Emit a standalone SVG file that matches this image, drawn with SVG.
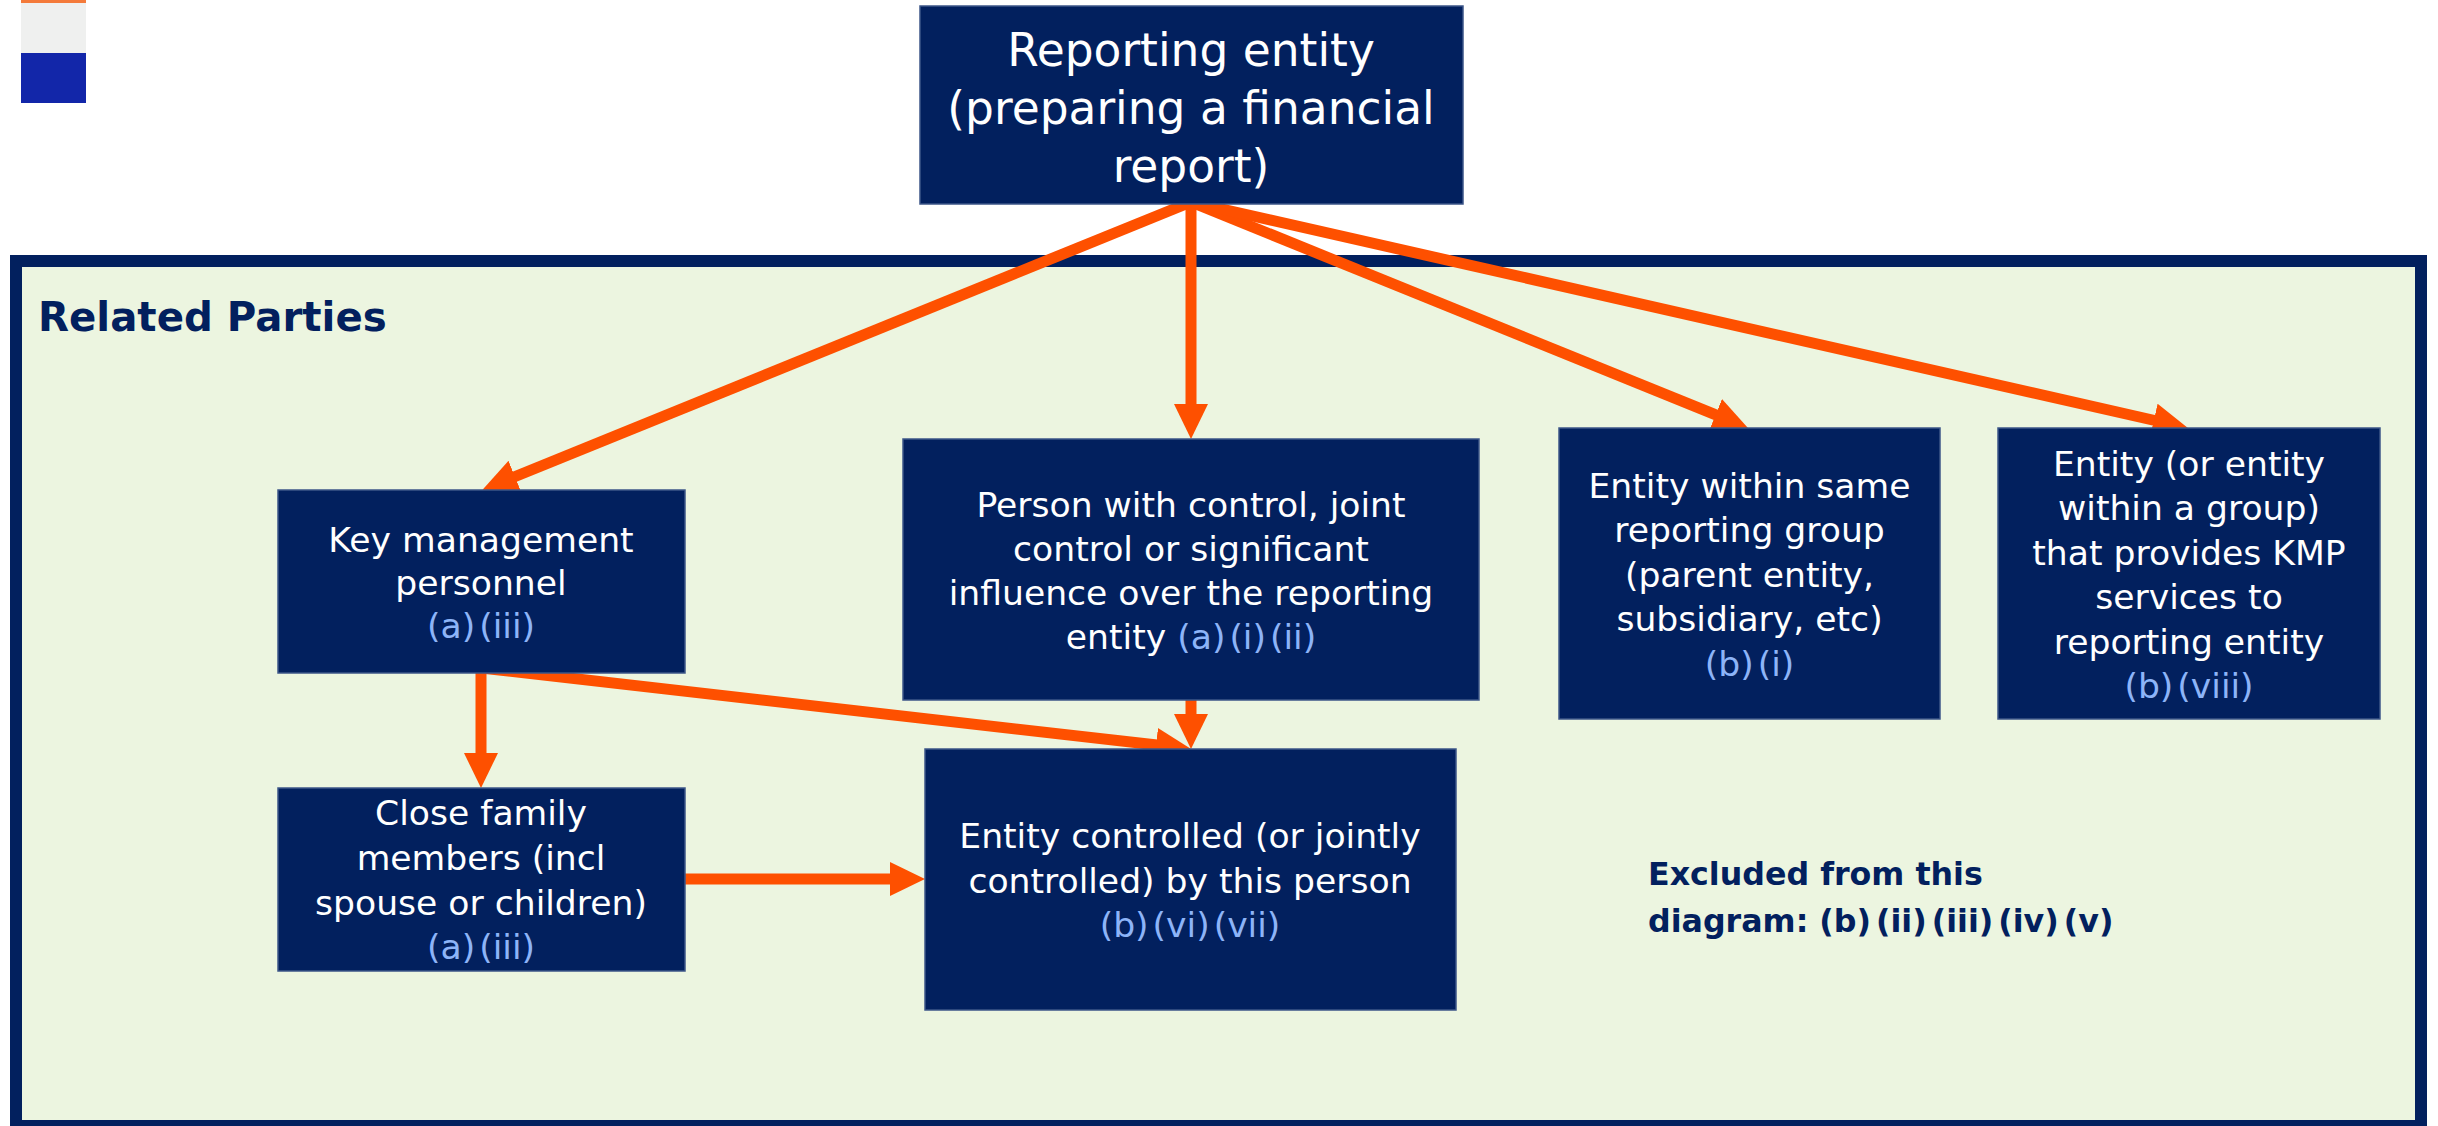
<svg xmlns="http://www.w3.org/2000/svg" width="2438" height="1126" viewBox="0 0 2438 1126">
<style>
.box{fill:#02205E;stroke:#3C5688;stroke-width:1.5}
.t{font-family:"DejaVu Sans","Open Sans",sans-serif;fill:#FFFFFF;text-anchor:middle}
.t36{font-size:34.6px}
.ref{fill:#8DB4F8}
.hd{font-family:"DejaVu Sans","Open Sans",sans-serif;font-weight:bold;fill:#02205E}
.arr{stroke:#FE5000;stroke-width:11;fill:none;marker-end:url(#ah)}
</style>
<defs>
<marker id="ah" markerUnits="userSpaceOnUse" markerWidth="40" markerHeight="40" refX="1" refY="17" orient="auto">
<path d="M0,0 L35,17 L0,34 Z" fill="#FE5000"/>
</marker>
</defs>
<rect width="2438" height="1126" fill="#FFFFFF"/>
<g id="flag">
<rect x="21" y="0" width="65" height="3" fill="#F47A3A"/>
<rect x="21" y="3" width="65" height="50" fill="#EFF0EF"/>
<rect x="21" y="53" width="65" height="50" fill="#1226A9"/>
</g>
<g id="related-parties">
<rect x="16" y="261" width="2405" height="865" fill="#ECF5E0" stroke="#02205E" stroke-width="12"/>
<text class="hd" x="38" y="331" font-size="40.3">Related Parties</text>
</g>
<g id="excluded">
<text class="hd" x="1648" y="885" font-size="31.7">Excluded from this</text>
<text class="hd" x="1648" y="932" font-size="31.7">diagram: (b)<tspan dx="5">(ii)</tspan><tspan dx="5">(iii)</tspan><tspan dx="5">(iv)</tspan><tspan dx="5">(v)</tspan></text>
</g>
<g id="connectors">
<line class="arr" x1="1191" y1="202" x2="514" y2="477"/>
<line class="arr" x1="1191" y1="202" x2="1191" y2="405"/>
<line class="arr" x1="1191" y1="202" x2="1716.5" y2="415.2"/>
<line class="arr" x1="1191" y1="202" x2="2154.8" y2="420.5"/>
<line class="arr" x1="481" y1="668" x2="481" y2="754"/>
<line class="arr" x1="481" y1="668" x2="1157" y2="745"/>
<line class="arr" x1="1191" y1="700" x2="1191" y2="715"/>
<line class="arr" x1="685" y1="879" x2="891" y2="879"/>
</g>
<g id="reporting-entity">
<rect class="box" x="920" y="6" width="543" height="198"/>
<text class="t" x="1191" y="66" font-size="45.5">Reporting entity</text>
<text class="t" x="1191" y="124" font-size="45.5">(preparing a financial</text>
<text class="t" x="1191" y="182" font-size="45.5">report)</text>
</g>
<g id="kmp">
<rect class="box" x="278" y="490" width="407" height="183"/>
<text class="t t36" x="481" y="552">Key management</text>
<text class="t t36" x="481" y="595">personnel</text>
<text class="t t36 ref" x="481" y="638">(a)<tspan dx="4">(iii)</tspan></text>
</g>
<g id="person">
<rect class="box" x="903" y="439" width="576" height="261"/>
<text class="t t36" x="1191" y="517">Person with control, joint</text>
<text class="t t36" x="1191" y="561">control or significant</text>
<text class="t t36" x="1191" y="605">influence over the reporting</text>
<text class="t t36" x="1191" y="649">entity <tspan class="ref">(a)</tspan><tspan class="ref" dx="4">(i)</tspan><tspan class="ref" dx="4">(ii)</tspan></text>
</g>
<g id="same-group">
<rect class="box" x="1559" y="428" width="381" height="291"/>
<text class="t t36" x="1749.5" y="498">Entity within same</text>
<text class="t t36" x="1749.5" y="542">reporting group</text>
<text class="t t36" x="1749.5" y="587">(parent entity,</text>
<text class="t t36" x="1749.5" y="631">subsidiary, etc)</text>
<text class="t t36 ref" x="1749.5" y="676">(b)<tspan dx="4">(i)</tspan></text>
</g>
<g id="kmp-services">
<rect class="box" x="1998" y="428" width="382" height="291"/>
<text class="t t36" x="2189" y="476">Entity (or entity</text>
<text class="t t36" x="2189" y="520">within a group)</text>
<text class="t t36" x="2189" y="565">that provides KMP</text>
<text class="t t36" x="2189" y="609">services to</text>
<text class="t t36" x="2189" y="654">reporting entity</text>
<text class="t t36 ref" x="2189" y="698">(b)<tspan dx="4">(viii)</tspan></text>
</g>
<g id="close-family">
<rect class="box" x="278" y="788" width="407" height="183"/>
<text class="t t36" x="481" y="825">Close family</text>
<text class="t t36" x="481" y="870">members (incl</text>
<text class="t t36" x="481" y="915">spouse or children)</text>
<text class="t t36 ref" x="481" y="959">(a)<tspan dx="4">(iii)</tspan></text>
</g>
<g id="entity-controlled">
<rect class="box" x="925" y="749" width="531" height="261"/>
<text class="t t36" x="1190" y="848">Entity controlled (or jointly</text>
<text class="t t36" x="1190" y="893">controlled) by this person</text>
<text class="t t36 ref" x="1190" y="937">(b)<tspan dx="4">(vi)</tspan><tspan dx="4">(vii)</tspan></text>
</g>
</svg>
